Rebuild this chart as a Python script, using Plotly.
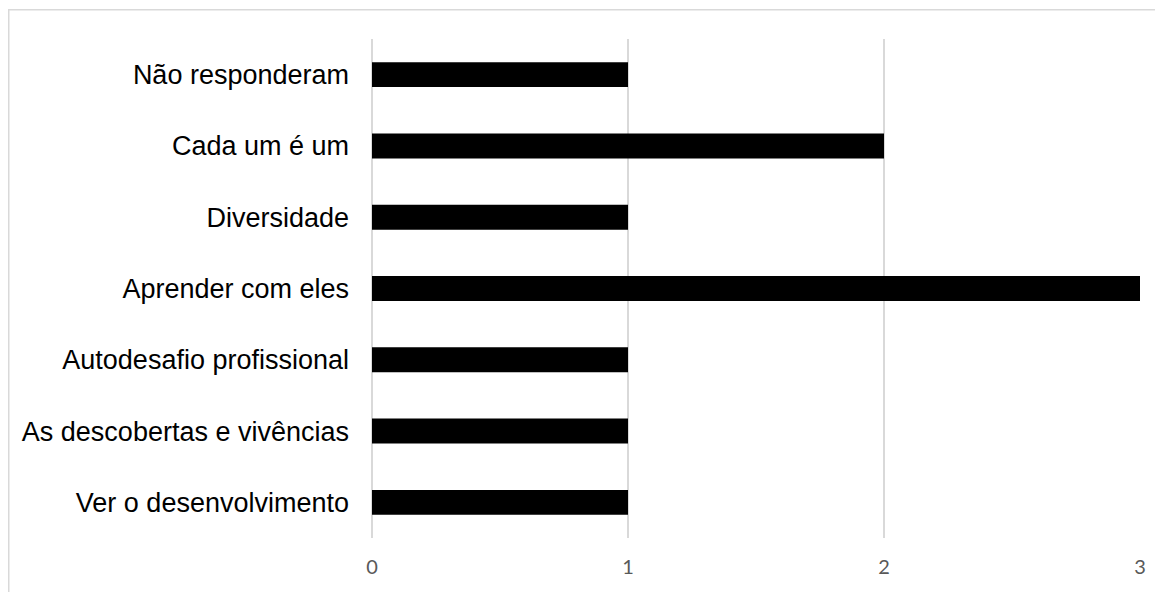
import plotly.graph_objects as go

categories = [
    "Ver o desenvolvimento",
    "As descobertas e vivências",
    "Autodesafio profissional",
    "Aprender com eles",
    "Diversidade",
    "Cada um é um",
    "Não responderam",
]
values = [1, 1, 1, 3, 1, 2, 1]
x_ticks = [0, 1, 2, 3]

W, H = 1163, 592
L, R, T, B = 364, 31, 31, 62
pw, ph = W - L - R, H - T - B

def px_x(p):
    return (p - L) / pw

def px_y(p):
    return (H - B - p) / ph

fig = go.Figure(go.Bar(
    x=values, y=categories, orientation="h",
    marker=dict(color="#000000", line=dict(width=0)),
))

fig.update_layout(
    width=W, height=H,
    margin=dict(l=L, r=R, t=T, b=B),
    paper_bgcolor="white", plot_bgcolor="white",
    bargap=0.65,
    showlegend=False,
    xaxis=dict(
        range=[0, 3], tickvals=x_ticks, showgrid=True, gridcolor="#d9d9d9", gridwidth=1.5,
        zeroline=True, zerolinecolor="#d9d9d9", zerolinewidth=1.5,
        showline=False, ticks="",
        tickfont=dict(family="Lato, Open Sans, sans-serif", size=20, color="#595959"),
        ticklabelstandoff=15,
    ),
    yaxis=dict(
        categoryorder="array", categoryarray=categories,
        showgrid=False, zeroline=False, showline=False, ticks="",
        tickfont=dict(family="Liberation Sans, Arial, sans-serif", size=27, color="#000000"),
        ticklabelstandoff=22,
    ),
    shapes=[dict(
        type="rect", xref="paper", yref="paper",
        x0=px_x(0.75), x1=px_x(1175), y0=px_y(605), y1=px_y(1.75),
        line=dict(color="#d9d9d9", width=1.5), fillcolor="rgba(0,0,0,0)", layer="below",
    )],
)

fig.write_html("out.html")
